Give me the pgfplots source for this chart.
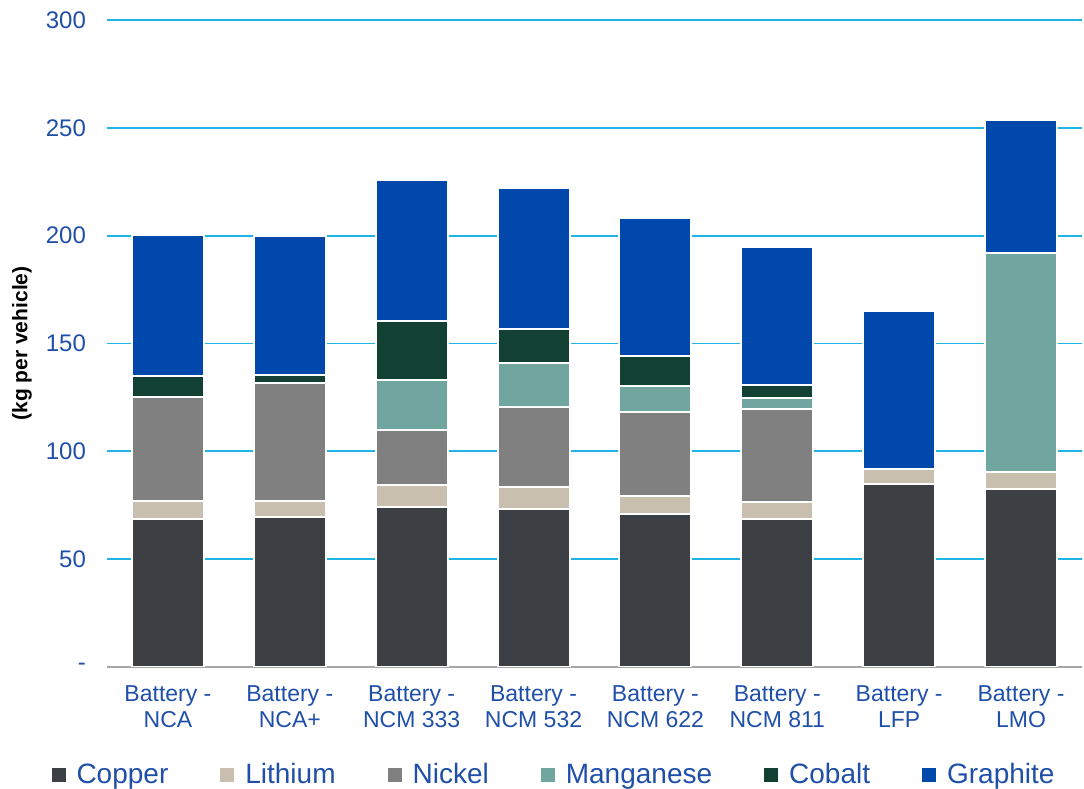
\documentclass[border=0pt]{standalone}
\usepackage{pgfplots}
\pgfplotsset{compat=1.18}
\usepackage{fontspec}
\setmainfont{Liberation Sans}
\definecolor{txtblue}{HTML}{1F4FA8}
\definecolor{gridblue}{HTML}{1FB4E6}
\definecolor{cCopper}{HTML}{3C3F44}
\definecolor{cLithium}{HTML}{C8BFAF}
\definecolor{cNickel}{HTML}{808080}
\definecolor{cMn}{HTML}{70A5A0}
\definecolor{cCobalt}{HTML}{124033}
\definecolor{cGraphite}{HTML}{0048AB}
\begin{document}
\begin{tikzpicture}
\begin{axis}[
    scale only axis,
    width=487.5pt, height=323.5pt,
    ybar stacked, bar width=36pt,
    xmin=-0.5, xmax=7.5,
    ymin=0, ymax=300,
    xtick=data,
    xticklabels={{Battery -\\NCA},{Battery -\\NCA+},{Battery -\\NCM 333},{Battery -\\NCM 532},{Battery -\\NCM 622},{Battery -\\NCM 811},{Battery -\\LFP},{Battery -\\LMO}},
    ytick={0,50,100,150,200,250,300},
    yticklabels={-,50,100,150,200,250,300},
    /pgf/number format/assume math mode=true,
    axis lines*=left,
    y axis line style={draw=none},
    x axis line style={draw=black!35, line width=1pt},
    major tick length=0pt,
    ymajorgrids,
    grid style={gridblue, line width=0.9pt},
    yticklabel style={font=\fontsize{12}{13}\selectfont, text=txtblue, xshift=-7pt},
    xticklabel style={font=\fontsize{11.5}{13}\selectfont, text=txtblue, align=center, yshift=-6pt},
    ylabel={(kg per vehicle)},
    every axis y label/.style={at={(rel axis cs:0,0.5)}, xshift=-42.5pt, rotate=90, anchor=center, font=\bfseries\fontsize{10.5}{12}\selectfont},
    every axis plot/.append style={draw=white, line width=1pt},
    legend columns=6,
    legend style={at={(0.459,-0.167)}, anchor=center, draw=none, fill=none,
        font=\fontsize{14}{15}\selectfont, text=txtblue,
        /tikz/every even column/.append style={column sep=23.5pt}},
    legend image code/.code={\path (0pt,0pt) -- (10pt,0pt); \fill[#1, draw=none] (0pt,-3.5pt) rectangle (7pt,3.5pt);},
]
\addplot[fill=cCopper] coordinates {(0,68.6) (1,69.5) (2,74.2) (3,73.3) (4,70.9) (5,68.6) (6,84.8) (7,82.5)};
\addplot[fill=cLithium] coordinates {(0,8.4) (1,7.5) (2,10.2) (3,10.1) (4,8.4) (5,7.9) (6,7.0) (7,7.9)};
\addplot[fill=cNickel] coordinates {(0,48.2) (1,54.7) (2,25.5) (3,37.1) (4,38.9) (5,43.1) (6,0) (7,0)};
\addplot[fill=cMn] coordinates {(0,0) (1,0) (2,23.1) (3,20.5) (4,12.1) (5,5.1) (6,0) (7,101.5)};
\addplot[fill=cCobalt] coordinates {(0,9.8) (1,3.7) (2,27.4) (3,15.7) (4,13.9) (5,6.0) (6,0) (7,0)};
\addplot[fill=cGraphite] coordinates {(0,65.3) (1,64.4) (2,65.4) (3,65.3) (4,64.0) (5,64.0) (6,73.2) (7,61.7)};
\legend{Copper,Lithium,Nickel,Manganese,Cobalt,Graphite}
\end{axis}
\pgfresetboundingbox
\path ([xshift=-53.5pt,yshift=-61pt]current axis.south west) rectangle ([xshift=1pt,yshift=10pt]current axis.north east);
\end{tikzpicture}
\end{document}
